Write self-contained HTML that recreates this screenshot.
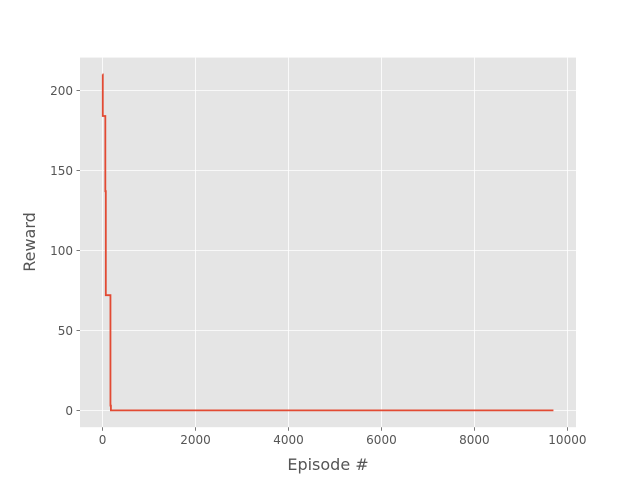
<!DOCTYPE html>
<html><head><meta charset="utf-8"><style>
body{margin:0;background:#fff;font-family:"Liberation Sans","DejaVu Sans",sans-serif}
svg text{font-family:"DejaVu Sans","Liberation Sans",sans-serif}
</style></head><body>
<svg id="chart" width="640" height="480">
<rect width="640" height="480" fill="#fff"/>
<rect x="80" y="57.6" width="496" height="369.6" fill="#e5e5e5"/>
<g id="grid"></g><g id="ticks"></g><g id="series"></g>
<text x="328" y="470" font-size="16" fill="#555" text-anchor="middle">Episode #</text>
<text transform="translate(35,242) rotate(-90)" font-size="16" fill="#555" text-anchor="middle">Reward</text>
</svg>
<script>
const episodes=[0,5,5,60,60,70,70,170,170,180,180,200,9700];
const rewards=[210,210,184,184,137,137,72,72,3,3,0,0,0];
const xTicks=[0,2000,4000,6000,8000,10000];
const yTicks=[0,50,100,150,200];
const xMin=-485,xMax=10185,yMin=-10.5,yMax=220.5;
const L=80,R=576,T=57.6,B=427.2;
function sx(v){return L+(v-xMin)/(xMax-xMin)*(R-L);}
function sy(v){return B-(v-yMin)/(yMax-yMin)*(B-T);}
const NS="http://www.w3.org/2000/svg";
const grid=document.getElementById('grid'),ticks=document.getElementById('ticks'),series=document.getElementById('series');
function mk(tag,attrs,parent){const e=document.createElementNS(NS,tag);for(const k in attrs)e.setAttribute(k,attrs[k]);parent.appendChild(e);return e;}
xTicks.forEach(v=>{const x=sx(v);
 const g=mk('line',{x1:x,x2:x,y1:T,y2:B,stroke:'#fff','stroke-width':0.8},grid);
 
 
 mk('line',{x1:x,x2:x,y1:B,y2:B+3.5,stroke:'#555','stroke-width':0.8},ticks);
 const t=mk('text',{x:x,y:B+17,'font-size':12,fill:'#555','text-anchor':'middle'},ticks);t.textContent=v;
 
 });
yTicks.forEach(v=>{const y=sy(v);
 const g=mk('line',{x1:L,x2:R,y1:y,y2:y,stroke:'#fff','stroke-width':0.8},grid);
 
 
 mk('line',{x1:L-3.5,x2:L,y1:y,y2:y,stroke:'#555','stroke-width':0.8},ticks);
 const t=mk('text',{x:L-7,y:y+4.5,'font-size':12,fill:'#555','text-anchor':'end'},ticks);t.textContent=v;
 
 });
const pts=episodes.map((e,i)=>sx(e).toFixed(2)+','+sy(rewards[i]).toFixed(2)).join(' ');
const line=mk('polyline',{points:pts,fill:'none',stroke:'#e24a33','stroke-width':1.8},series);


</script>
</body></html>
